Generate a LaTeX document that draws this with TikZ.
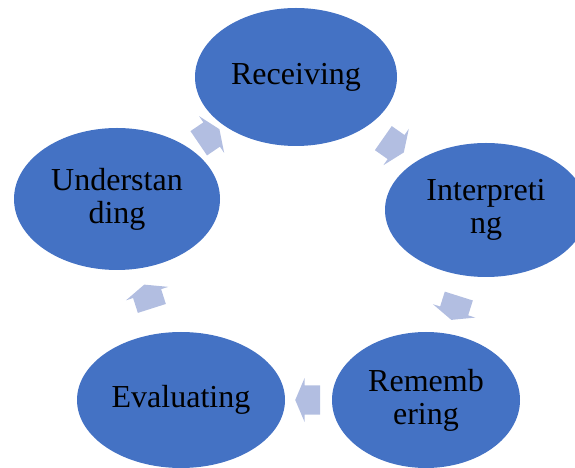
\documentclass[tikz,border=0pt]{standalone}
\usepackage{fontspec}
\setmainfont{Liberation Serif}
\usetikzlibrary{shapes.geometric,shapes.arrows}
\definecolor{stagefill}{RGB}{68,114,196}
\definecolor{turnfill}{RGB}{178,190,225}
\tikzset{
  stage/.style={ellipse, fill=stagefill, inner sep=0pt, align=center,
    font=\fontsize{32}{33}\selectfont},
  turn/.style={single arrow, fill=turnfill, inner sep=0pt, inner ysep=14.5pt,
    minimum height=25pt, single arrow head extend=7.5pt,
    single arrow tip angle=134, sloped, allow upside down}
}
\begin{document}
\begin{tikzpicture}[x=1pt,y=1pt]
            \useasboundingbox (0,0) rectangle (575,468);
            \node [stage, minimum width=202pt, minimum height=138pt] (rec) at (296,391) {Receiving};
            \node [stage, minimum width=202pt, minimum height=134pt] (int) at (486,258) {Interpreti\\ng};
            \node [stage, minimum width=188pt, minimum height=136pt] (rem) at (426,68) {Rememb\\ering};
            \node [stage, minimum width=208pt, minimum height=136pt] (eva) at (181,68) {Evaluating};
            \node [stage, minimum width=206pt, minimum height=142pt] (und) at (117,269) {Understan\\ding};
            \path (und.center) -- node [turn] (t1) {} (rec.center);
            \path (rec.center) -- node [turn] (t2) {} (int.center);
            \path (int.center) -- node [turn] (t3) {} (rem.center);
            \path (rem.center) -- node [turn, pos=0.47] (t4) {} (eva.center);
            \path (eva.center) -- node [turn] (t5) {} (und.center);
        \end{tikzpicture}
\end{document}
